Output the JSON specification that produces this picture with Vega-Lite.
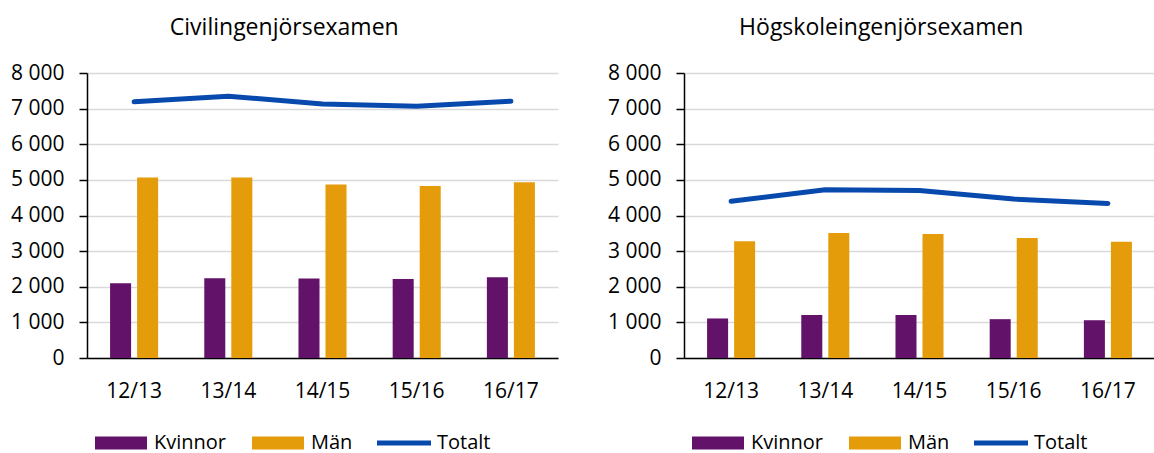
{
  "$schema": "https://vega.github.io/schema/vega-lite/v6.json",
  "padding": {"left": 10, "top": 17, "right": 0, "bottom": 0},
  "background": "white",
  "config": {
    "font": "Open Sans",
    "view": {"stroke": null},
    "title": {"font": "Open Sans", "fontSize": 23, "fontWeight": "normal", "color": "#000000", "anchor": "middle", "frame": "bounds", "offset": 22},
    "axis": {"labelFont": "Open Sans", "labelColor": "#000000", "titleFont": "Open Sans"},
    "legend": {"labelFont": "Open Sans", "labelFontSize": 20, "labelColor": "#000000"}
  },
  "data": {"values": [
    {"panel": "Civilingenjörsexamen", "period": "12/13", "serie": "Kvinnor", "value": 2100},
    {"panel": "Civilingenjörsexamen", "period": "13/14", "serie": "Kvinnor", "value": 2240},
    {"panel": "Civilingenjörsexamen", "period": "14/15", "serie": "Kvinnor", "value": 2230},
    {"panel": "Civilingenjörsexamen", "period": "15/16", "serie": "Kvinnor", "value": 2220},
    {"panel": "Civilingenjörsexamen", "period": "16/17", "serie": "Kvinnor", "value": 2270},
    {"panel": "Civilingenjörsexamen", "period": "12/13", "serie": "Män", "value": 5070},
    {"panel": "Civilingenjörsexamen", "period": "13/14", "serie": "Män", "value": 5070},
    {"panel": "Civilingenjörsexamen", "period": "14/15", "serie": "Män", "value": 4870},
    {"panel": "Civilingenjörsexamen", "period": "15/16", "serie": "Män", "value": 4830},
    {"panel": "Civilingenjörsexamen", "period": "16/17", "serie": "Män", "value": 4930},
    {"panel": "Civilingenjörsexamen", "period": "12/13", "serie": "Totalt", "value": 7190},
    {"panel": "Civilingenjörsexamen", "period": "13/14", "serie": "Totalt", "value": 7350},
    {"panel": "Civilingenjörsexamen", "period": "14/15", "serie": "Totalt", "value": 7130},
    {"panel": "Civilingenjörsexamen", "period": "15/16", "serie": "Totalt", "value": 7070},
    {"panel": "Civilingenjörsexamen", "period": "16/17", "serie": "Totalt", "value": 7210},
    {"panel": "Högskoleingenjörsexamen", "period": "12/13", "serie": "Kvinnor", "value": 1110},
    {"panel": "Högskoleingenjörsexamen", "period": "13/14", "serie": "Kvinnor", "value": 1210},
    {"panel": "Högskoleingenjörsexamen", "period": "14/15", "serie": "Kvinnor", "value": 1210},
    {"panel": "Högskoleingenjörsexamen", "period": "15/16", "serie": "Kvinnor", "value": 1090},
    {"panel": "Högskoleingenjörsexamen", "period": "16/17", "serie": "Kvinnor", "value": 1060},
    {"panel": "Högskoleingenjörsexamen", "period": "12/13", "serie": "Män", "value": 3280},
    {"panel": "Högskoleingenjörsexamen", "period": "13/14", "serie": "Män", "value": 3510},
    {"panel": "Högskoleingenjörsexamen", "period": "14/15", "serie": "Män", "value": 3480},
    {"panel": "Högskoleingenjörsexamen", "period": "15/16", "serie": "Män", "value": 3370},
    {"panel": "Högskoleingenjörsexamen", "period": "16/17", "serie": "Män", "value": 3260},
    {"panel": "Högskoleingenjörsexamen", "period": "12/13", "serie": "Totalt", "value": 4400},
    {"panel": "Högskoleingenjörsexamen", "period": "13/14", "serie": "Totalt", "value": 4720},
    {"panel": "Högskoleingenjörsexamen", "period": "14/15", "serie": "Totalt", "value": 4700},
    {"panel": "Högskoleingenjörsexamen", "period": "15/16", "serie": "Totalt", "value": 4460},
    {"panel": "Högskoleingenjörsexamen", "period": "16/17", "serie": "Totalt", "value": 4340}
  ]},
  "spacing": 49,
  "resolve": {"scale": {"color": "independent"}},
  "hconcat": [
    {
      "title": "Civilingenjörsexamen",
      "width": 471,
      "height": 285,
      "transform": [{"filter": "datum.panel === 'Civilingenjörsexamen'"}],
      "encoding": {
        "x": {"field": "period", "type": "nominal", "sort": null, "title": null,
          "scale": {"paddingInner": 0.49, "paddingOuter": 0.245},
          "axis": {"labelAngle": 0, "labelFontSize": 21, "labelPadding": 22, "ticks": false, "grid": false, "domainColor": "#000000", "domainWidth": 1.5}},
        "y": {"field": "value", "type": "quantitative", "title": null,
          "scale": {"domain": [0, 8000]},
          "axis": {"values": [0, 1000, 2000, 3000, 4000, 5000, 6000, 7000, 8000], "labelExpr": "replace(format(datum.value, ','), ',', ' ')", "labelFontSize": 21, "labelPadding": 15, "tickSize": 8, "tickColor": "#000000", "tickWidth": 1.5, "domainColor": "#000000", "domainWidth": 1.5, "gridColor": "#d9d9d9", "gridWidth": 1.5}}
      },
      "layer": [
        {"transform": [{"filter": "datum.serie !== 'Totalt'"}],
         "mark": {"type": "bar"},
         "encoding": {
           "xOffset": {"field": "serie", "type": "nominal", "scale": {"paddingInner": 0.222, "paddingOuter": 0}},
           "color": {"field": "serie", "type": "nominal",
             "scale": {"domain": ["Kvinnor", "Män", "Totalt"], "range": ["#621269", "#E49C0B", "#0849AD"]},
             "legend": {"title": null, "orient": "bottom", "direction": "horizontal", "offset": 8, "padding": 7, "columnPadding": 24, "labelOffset": 6, "symbolSize": 2916, "symbolType": "M-0.963,-0.24H0.963V0.24H-0.963Z", "symbolStrokeWidth": 0, "symbolOpacity": 1,
               "encode": {"symbols": {"update": {"shape": {"signal": "datum.value === 'Totalt' ? 'M-1,-0.09H1V0.09H-1Z' : 'M-0.963,-0.24H0.963V0.24H-0.963Z'"}}}}}}
         }},
        {"transform": [{"filter": "datum.serie === 'Totalt'"}],
         "mark": {"type": "line", "strokeWidth": 5, "strokeCap": "round", "strokeJoin": "round"},
         "encoding": {"color": {"field": "serie", "type": "nominal", "legend": null}}}
      ]
    },
    {
      "title": "Högskoleingenjörsexamen",
      "width": 471,
      "height": 285,
      "transform": [{"filter": "datum.panel === 'Högskoleingenjörsexamen'"}],
      "encoding": {
        "x": {"field": "period", "type": "nominal", "sort": null, "title": null,
          "scale": {"paddingInner": 0.49, "paddingOuter": 0.245},
          "axis": {"labelAngle": 0, "labelFontSize": 21, "labelPadding": 22, "ticks": false, "grid": false, "domainColor": "#000000", "domainWidth": 1.5}},
        "y": {"field": "value", "type": "quantitative", "title": null,
          "scale": {"domain": [0, 8000]},
          "axis": {"values": [0, 1000, 2000, 3000, 4000, 5000, 6000, 7000, 8000], "labelExpr": "replace(format(datum.value, ','), ',', ' ')", "labelFontSize": 21, "labelPadding": 15, "tickSize": 8, "tickColor": "#000000", "tickWidth": 1.5, "domainColor": "#000000", "domainWidth": 1.5, "gridColor": "#d9d9d9", "gridWidth": 1.5}}
      },
      "layer": [
        {"transform": [{"filter": "datum.serie !== 'Totalt'"}],
         "mark": {"type": "bar"},
         "encoding": {
           "xOffset": {"field": "serie", "type": "nominal", "scale": {"paddingInner": 0.222, "paddingOuter": 0}},
           "color": {"field": "serie", "type": "nominal",
             "scale": {"domain": ["Kvinnor", "Män", "Totalt"], "range": ["#621269", "#E49C0B", "#0849AD"]},
             "legend": {"title": null, "orient": "bottom", "direction": "horizontal", "offset": 8, "padding": 7, "columnPadding": 24, "labelOffset": 6, "symbolSize": 2916, "symbolType": "M-0.963,-0.24H0.963V0.24H-0.963Z", "symbolStrokeWidth": 0, "symbolOpacity": 1,
               "encode": {"symbols": {"update": {"shape": {"signal": "datum.value === 'Totalt' ? 'M-1,-0.09H1V0.09H-1Z' : 'M-0.963,-0.24H0.963V0.24H-0.963Z'"}}}}}}
         }},
        {"transform": [{"filter": "datum.serie === 'Totalt'"}],
         "mark": {"type": "line", "strokeWidth": 5, "strokeCap": "round", "strokeJoin": "round"},
         "encoding": {"color": {"field": "serie", "type": "nominal", "legend": null}}}
      ]
    }
  ]
}
